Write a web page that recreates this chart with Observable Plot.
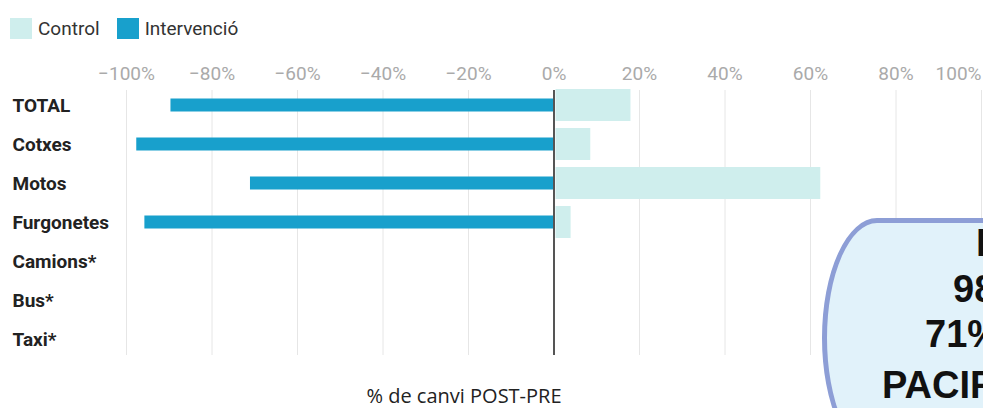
<!DOCTYPE html>
<html>
<head>
<meta charset="utf-8">
<script src="https://cdn.jsdelivr.net/npm/d3@7"></script>
<script src="https://cdn.jsdelivr.net/npm/@observablehq/plot@0.6"></script>
<style>
  html, body { margin: 0; padding: 0; background: #fff; }
  body { width: 983px; height: 408px; overflow: hidden; position: relative; font-family: Roboto, sans-serif; }
  #legend { position: absolute; left: 10px; top: 17px; display: flex; align-items: center; font-size: 19px; color: #333; }
  .item { display: flex; align-items: center; margin-right: 17px; }
  .sw { width: 22px; height: 21px; margin-right: 6px; box-sizing: border-box; }
  #chart { position: absolute; left: 0; top: 50px; }
  #caption { position: absolute; left: 0; width: 928px; top: 383px; text-align: center; font-family: "Open Sans", sans-serif; font-size: 20px; line-height: 26px; color: #222; }
  #callout { position: absolute; left: 822px; top: 218px; width: 420px; height: 240px; box-sizing: border-box;
    border: 5px solid #8d9ed6; border-radius: 55px / 120px; background: #e1f2fa; }
  .cl { position: absolute; font-family: "Liberation Sans", Arial, sans-serif; font-weight: bold; font-size: 38px; line-height: 38px; color: #111; white-space: nowrap; }
</style>
</head>
<body>
<div id="legend"></div>
<div id="chart"></div>
<div id="caption"></div>
<div id="callout"></div>
<script>
const categories = ["TOTAL", "Cotxes", "Motos", "Furgonetes", "Camions*", "Bus*", "Taxi*"];
const controlValues = [18, 8.6, 62.4, 4, null, null, null];
const intervencioValues = [-89.6, -97.6, -71, -95.7, null, null, null];
const xTicks = [-100, -80, -60, -40, -20, 0, 20, 40, 60, 80, 100];
const seriesNames = ["Control", "Intervenció"];
const seriesColors = ["#cfeeed", "#18a0cc"];
const axisTitle = "% de canvi POST-PRE";
const calloutLines = ["I", "98", "71%", "PACIFICACIÓ"];

const controlRows = categories.map((c, i) => ({category: c, value: controlValues[i]})).filter(d => d.value != null);
const intervRows = categories.map((c, i) => ({category: c, value: intervencioValues[i]})).filter(d => d.value != null);
const fmt = v => (v < 0 ? "\u2212" + Math.abs(v) : String(v)) + "%";

// legend
const legend = document.getElementById("legend");
seriesNames.forEach((name, i) => {
  const it = document.createElement("div");
  it.className = "item";
  const sw = document.createElement("div");
  sw.className = "sw";
  sw.style.background = seriesColors[i];
  const t = document.createElement("span");
  t.textContent = name;
  it.appendChild(sw); it.appendChild(t);
  legend.appendChild(it);
});

const chart = Plot.plot({
  width: 983,
  height: 320,
  marginLeft: 126,
  marginRight: 2,
  marginTop: 40,
  marginBottom: 15,
  style: {fontFamily: "Roboto, sans-serif", background: "transparent", overflow: "visible"},
  x: {domain: [-100, 100], axis: null},
  y: {domain: categories, range: [35.8, 308.8], paddingInner: 0.18, paddingOuter: 0.09, axis: null},
  marks: [
    Plot.ruleX(xTicks, {x: d => d, stroke: "#e6e6e6", strokeWidth: 1}),
    Plot.barX(controlRows, {y: "category", x1: 0, x2: "value", fill: seriesColors[0], insetLeft: 2}),
    Plot.barX(intervRows, {y: "category", x1: 0, x2: "value", fill: seriesColors[1], insetTop: 9.5, insetBottom: 9.5}),
    Plot.ruleX([0], {x: d => d, stroke: "#555", strokeWidth: 2}),
    Plot.text(xTicks.filter(t => t < 100), {x: d => d, text: fmt, frameAnchor: "top", dy: -17, lineAnchor: "middle", fill: "#aaa", fontSize: 19}),
    Plot.text(xTicks.filter(t => t === 100), {x: d => d, text: fmt, frameAnchor: "top", dy: -17, lineAnchor: "middle", textAnchor: "end", fill: "#aaa", fontSize: 19}),
    Plot.text(categories, {y: d => d, text: d => d, frameAnchor: "left", textAnchor: "start", dx: -114, fontWeight: "bold", fontSize: 19, fill: "#222"})
  ]
});
document.getElementById("chart").appendChild(chart);

document.getElementById("caption").textContent = axisTitle;

// callout overlay
const lefts = [976, 953, 925, 882];
const tops = [224, 270, 315, 366];
calloutLines.forEach((s, i) => {
  const d = document.createElement("div");
  d.className = "cl";
  d.style.left = lefts[i] + "px";
  d.style.top = tops[i] + "px";
  d.textContent = s;
  document.body.appendChild(d);
});
</script>
</body>
</html>
